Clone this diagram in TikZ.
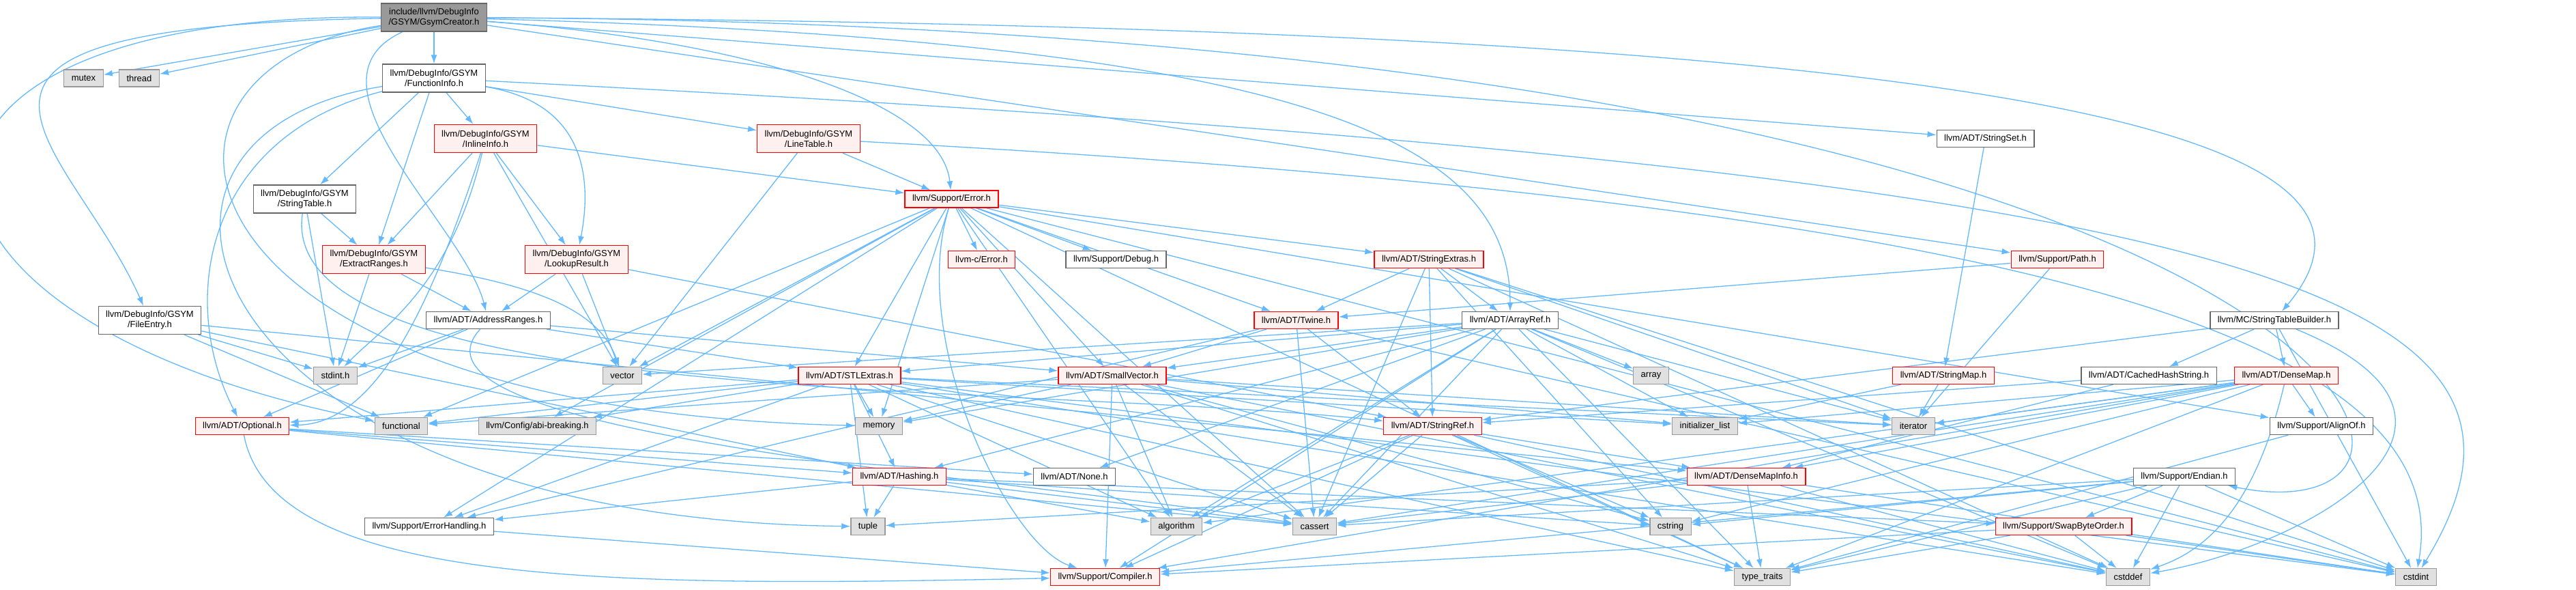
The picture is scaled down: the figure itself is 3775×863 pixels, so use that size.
\documentclass[tikz,border=0pt]{standalone}
\usepackage{xcolor}
\usepackage{fontspec}
\setmainfont{Liberation Sans}
\usepackage{tikz}
\usetikzlibrary{arrows.meta,positioning,backgrounds}

\definecolor{edgeblue}{HTML}{63B8FF}
\definecolor{hdrgray}{HTML}{666666}
\definecolor{rootgray}{HTML}{999999}
\definecolor{truncred}{HTML}{FF0000}
\definecolor{truncfill}{HTML}{FFF0F0}
\definecolor{sysgray}{HTML}{999999}
\definecolor{sysfill}{HTML}{E0E0E0}
\newcommand{\boxfont}{\fontsize{13pt}{15pt}\selectfont}

\begin{document}
\begin{tikzpicture}[x=1pt, y=1pt, >={Latex[length=13pt,width=9pt]},
    box/.style={shape=rectangle, draw, line width=1.3pt, align=center, font=\boxfont,
                inner xsep=11pt, inner ysep=0pt, minimum height=25pt},
    rootnode/.style={box, draw=hdrgray, fill=rootgray},
    hdr/.style={box, draw=hdrgray, fill=white},
    trunc/.style={box, draw=truncred, fill=truncfill},
    sysfile/.style={box, draw=sysgray, fill=sysfill},
    twoline/.style={minimum height=41pt},
    dep/.style={->, draw=edgeblue, line width=1.3pt}
    ]
\useasboundingbox (0,0) rectangle (3775,-863);
% headers, row by row
\node[rootnode, twoline] (gsymcreator) at (636,-25.5) {include/llvm/DebugInfo\\/GSYM/GsymCreator.h};
\node[sysfile] (mutex) at (122.5,-114.5) {mutex};
\node[sysfile] (thread) at (204,-114.5) {thread};
\node[hdr, twoline] (functioninfo) at (636,-114.5) {llvm/DebugInfo/GSYM\\/FunctionInfo.h};
\node[trunc, twoline] (inlineinfo) at (711.5,-203) {llvm/DebugInfo/GSYM\\/InlineInfo.h};
\node[trunc, twoline] (linetable) at (1185,-203) {llvm/DebugInfo/GSYM\\/LineTable.h};
\node[hdr] (stringset) at (2909.5,-203) {llvm/ADT/StringSet.h};
\node[hdr, twoline] (stringtable) at (446.5,-291.5) {llvm/DebugInfo/GSYM\\/StringTable.h};
\node[trunc] (supporterror) at (1394.5,-291.5) {llvm/Support/Error.h};
\node[trunc, twoline] (extractranges) at (548,-380) {llvm/DebugInfo/GSYM\\/ExtractRanges.h};
\node[trunc, twoline] (lookupresult) at (845,-380) {llvm/DebugInfo/GSYM\\/LookupResult.h};
\node[trunc] (cerror) at (1438.5,-380) {llvm-c/Error.h};
\node[hdr] (debug) at (1635.5,-380) {llvm/Support/Debug.h};
\node[trunc] (stringextras) at (2094,-380) {llvm/ADT/StringExtras.h};
\node[trunc] (supportpath) at (3015,-380) {llvm/Support/Path.h};
\node[hdr, twoline] (fileentry) at (219.5,-469) {llvm/DebugInfo/GSYM\\/FileEntry.h};
\node[hdr] (addressranges) at (715.5,-469) {llvm/ADT/AddressRanges.h};
\node[trunc] (twine) at (1899.5,-469) {llvm/ADT/Twine.h};
\node[hdr] (arrayref) at (2213,-469) {llvm/ADT/ArrayRef.h};
\node[hdr] (stringtablebuilder) at (3333,-469) {llvm/MC/StringTableBuilder.h};
\node[sysfile] (stdint) at (491.5,-550) {stdint.h};
\node[sysfile] (vector) at (912,-550) {vector};
\node[trunc] (stlextras) at (1245,-550) {llvm/ADT/STLExtras.h};
\node[trunc] (smallvector) at (1630,-550) {llvm/ADT/SmallVector.h};
\node[sysfile] (array) at (2419.5,-550) {array};
\node[trunc] (stringmap) at (2848,-550) {llvm/ADT/StringMap.h};
\node[hdr] (cachedhashstring) at (3149,-550) {llvm/ADT/CachedHashString.h};
\node[trunc] (densemap) at (3350.5,-550) {llvm/ADT/DenseMap.h};
\node[trunc] (optional) at (355,-624) {llvm/ADT/Optional.h};
\node[sysfile] (functional) at (588,-624) {functional};
\node[sysfile] (abibreaking) at (787.5,-624) {llvm/Config/abi-breaking.h};
\node[sysfile] (memory) at (1288,-624) {memory};
\node[trunc] (stringref) at (2099.5,-624) {llvm/ADT/StringRef.h};
\node[sysfile] (initlist) at (2498.5,-624) {initializer\_list};
\node[sysfile] (iterator) at (2804,-624) {iterator};
\node[hdr] (alignof) at (3402,-624) {llvm/Support/AlignOf.h};
\node[trunc] (hashing) at (1318,-698) {llvm/ADT/Hashing.h};
\node[hdr] (noneh) at (1574.5,-698) {llvm/ADT/None.h};
\node[trunc] (densemapinfo) at (2559,-698) {llvm/ADT/DenseMapInfo.h};
\node[hdr] (endian) at (3201,-698) {llvm/Support/Endian.h};
\node[hdr] (errorhandling) at (629,-771) {llvm/Support/ErrorHandling.h};
\node[sysfile] (tuple) at (1272,-771) {tuple};
\node[sysfile] (algorithm) at (1724,-771) {algorithm};
\node[sysfile] (cassert) at (1926.5,-771) {cassert};
\node[sysfile] (cstring) at (2448,-771) {cstring};
\node[trunc] (swapbyteorder) at (3024,-771) {llvm/Support/SwapByteOrder.h};
\node[trunc] (compiler) at (1619.5,-845) {llvm/Support/Compiler.h};
\node[sysfile] (typetraits) at (2582.5,-845) {type\_traits};
\node[sysfile] (cstddef) at (3118.5,-845) {cstddef};
\node[sysfile] (cstdint) at (3540.5,-845) {cstdint};

\begin{scope}[on background layer]
% GsymCreator.h
\draw[dep] (gsymcreator) -- (mutex);
\draw[dep] (gsymcreator) -- (thread);
\draw[dep] (gsymcreator) -- (functioninfo);
\draw[dep] (gsymcreator) .. controls (-200,-40) and (100,-200) .. (fileentry);
\draw[dep] (gsymcreator) .. controls (-250,-20) and (-200,-470) .. (functional);
\draw[dep] (gsymcreator) .. controls (150,-100) and (230,-600) .. (memory);
\draw[dep] (gsymcreator) .. controls (430,-120) and (680,-330) .. (addressranges);
\draw[dep] (gsymcreator) .. controls (1900,-60) and (2213,-200) .. (arrayref);
\draw[dep] (gsymcreator) -- (stringset);
\draw[dep] (gsymcreator) .. controls (3000,-40) and (3560,-200) .. (stringtablebuilder);
\draw[dep] (gsymcreator) .. controls (3500,-40) and (3700,-800) .. (endian);
\draw[dep] (gsymcreator) .. controls (1100,-60) and (1380,-150) .. (supporterror);
\draw[dep] (gsymcreator) -- (supportpath);
% FunctionInfo.h
\draw[dep] (functioninfo) .. controls (300,-200) and (260,-440) .. (optional);
\draw[dep] (functioninfo) .. controls (100,-200) and (300,-760) .. (tuple);
\draw[dep] (functioninfo) -- (stringtable);
\draw[dep] (functioninfo) -- (extractranges);
\draw[dep] (functioninfo) -- (inlineinfo);
\draw[dep] (functioninfo) -- (linetable);
\draw[dep] (functioninfo) .. controls (850,-150) and (870,-250) .. (lookupresult);
\draw[dep] (functioninfo) .. controls (3300,-250) and (3800,-420) .. (cstdint);
% InlineInfo.h
\draw[dep] (inlineinfo) -- (extractranges);
\draw[dep] (inlineinfo) -- (lookupresult);
\draw[dep] (inlineinfo) -- (supporterror);
\draw[dep] (inlineinfo) .. controls (640,-420) and (560,-620) .. (optional);
\draw[dep] (inlineinfo) .. controls (660,-420) and (560,-480) .. (stdint);
\draw[dep] (inlineinfo) -- (vector);
% LineTable.h
\draw[dep] (linetable) -- (supporterror);
\draw[dep] (linetable) -- (vector);
\draw[dep] (linetable) .. controls (3000,-300) and (3600,-500) .. (cstdint);
% StringTable.h
\draw[dep] (stringtable) -- (stdint);
\draw[dep] (stringtable) -- (extractranges);
\draw[dep] (stringtable) .. controls (400,-600) and (1500,-560) .. (stringref);
% ExtractRanges.h
\draw[dep] (extractranges) -- (addressranges);
\draw[dep] (extractranges) -- (stdint);
\draw[dep] (extractranges) .. controls (800,-420) and (880,-460) .. (vector);
% LookupResult.h
\draw[dep] (lookupresult) -- (addressranges);
\draw[dep] (lookupresult) -- (vector);
\draw[dep] (lookupresult) -- (stringref);
% FileEntry.h
\draw[dep] (fileentry) -- (densemapinfo);
\draw[dep] (fileentry) -- (hashing);
\draw[dep] (fileentry) -- (functional);
\draw[dep] (fileentry) -- (stdint);
% AddressRanges.h
\draw[dep] (addressranges) -- (optional);
\draw[dep] (addressranges) -- (stlextras);
\draw[dep] (addressranges) -- (smallvector);
\draw[dep] (addressranges) .. controls (560,-640) and (1500,-700) .. (cassert);
\draw[dep] (addressranges) -- (stdint);
% Error.h
\draw[dep] (supporterror) -- (cerror);
\draw[dep] (supporterror) -- (stlextras);
\draw[dep] (supporterror) -- (smallvector);
\draw[dep] (supporterror) -- (stringextras);
\draw[dep] (supporterror) -- (twine);
\draw[dep] (supporterror) -- (abibreaking);
\draw[dep] (supporterror) -- (alignof);
\draw[dep] (supporterror) .. controls (1330,-500) and (1480,-800) .. (compiler);
\draw[dep] (supporterror) -- (debug);
\draw[dep] (supporterror) -- (errorhandling);
\draw[dep] (supporterror) -- (algorithm);
\draw[dep] (supporterror) -- (cassert);
\draw[dep] (supporterror) -- (cstdint);
\draw[dep] (supporterror) -- (functional);
\draw[dep] (supporterror) -- (memory);
\draw[dep] (supporterror) -- (typetraits);
\draw[dep] (supporterror) -- (vector);
% StringExtras.h
\draw[dep] (stringextras) -- (arrayref);
\draw[dep] (stringextras) -- (stringref);
\draw[dep] (stringextras) -- (twine);
\draw[dep] (stringextras) -- (cassert);
\draw[dep] (stringextras) -- (cstddef);
\draw[dep] (stringextras) -- (cstdint);
\draw[dep] (stringextras) -- (cstring);
\draw[dep] (stringextras) -- (iterator);
% StringSet.h, Path.h
\draw[dep] (stringset) -- (stringmap);
\draw[dep] (supportpath) -- (twine);
\draw[dep] (supportpath) -- (iterator);
% StringTableBuilder.h
\draw[dep] (stringtablebuilder) -- (cachedhashstring);
\draw[dep] (stringtablebuilder) -- (densemap);
\draw[dep] (stringtablebuilder) -- (stringref);
\draw[dep] (stringtablebuilder) .. controls (3700,-620) and (3380,-800) .. (cstddef);
\draw[dep] (stringtablebuilder) -- (cstdint);
% CachedHashString.h
\draw[dep] (cachedhashstring) -- (densemapinfo);
\draw[dep] (cachedhashstring) -- (stringref);
% DenseMap.h
\draw[dep] (densemap) -- (densemapinfo);
\draw[dep] (densemap) -- (alignof);
\draw[dep] (densemap) -- (compiler);
\draw[dep] (densemap) -- (algorithm);
\draw[dep] (densemap) -- (cassert);
\draw[dep] (densemap) .. controls (3310,-720) and (3250,-800) .. (cstddef);
\draw[dep] (densemap) -- (cstring);
\draw[dep] (densemap) -- (initlist);
\draw[dep] (densemap) -- (iterator);
\draw[dep] (densemap) -- (typetraits);
% AlignOf.h
\draw[dep] (alignof) -- (typetraits);
% Endian.h
\draw[dep] (endian) -- (compiler);
\draw[dep] (endian) -- (swapbyteorder);
\draw[dep] (endian) -- (cassert);
\draw[dep] (endian) -- (cstddef);
\draw[dep] (endian) -- (cstdint);
\draw[dep] (endian) -- (cstring);
\draw[dep] (endian) -- (typetraits);
% SwapByteOrder.h
\draw[dep] (swapbyteorder) -- (compiler);
\draw[dep] (swapbyteorder) -- (cstddef);
\draw[dep] (swapbyteorder) -- (cstdint);
\draw[dep] (swapbyteorder) -- (typetraits);
% Twine.h
\draw[dep] (twine) -- (smallvector);
\draw[dep] (twine) -- (stringref);
\draw[dep] (twine) -- (errorhandling);
\draw[dep] (twine) -- (cassert);
\draw[dep] (twine) -- (cstdint);
% ArrayRef.h
\draw[dep] (arrayref) -- (hashing);
\draw[dep] (arrayref) -- (noneh);
\draw[dep] (arrayref) -- (stlextras);
\draw[dep] (arrayref) -- (smallvector);
\draw[dep] (arrayref) -- (compiler);
\draw[dep] (arrayref) -- (algorithm);
\draw[dep] (arrayref) -- (array);
\draw[dep] (arrayref) -- (cassert);
\draw[dep] (arrayref) -- (cstddef);
\draw[dep] (arrayref) -- (initlist);
\draw[dep] (arrayref) -- (iterator);
\draw[dep] (arrayref) -- (memory);
\draw[dep] (arrayref) -- (typetraits);
\draw[dep] (arrayref) -- (vector);
% SmallVector.h
\draw[dep] (smallvector) -- (compiler);
\draw[dep] (smallvector) -- (algorithm);
\draw[dep] (smallvector) -- (cassert);
\draw[dep] (smallvector) -- (cstddef);
\draw[dep] (smallvector) -- (cstring);
\draw[dep] (smallvector) -- (functional);
\draw[dep] (smallvector) -- (initlist);
\draw[dep] (smallvector) -- (iterator);
\draw[dep] (smallvector) -- (memory);
\draw[dep] (smallvector) -- (typetraits);
% STLExtras.h
\draw[dep] (stlextras) -- (hashing);
\draw[dep] (stlextras) -- (optional);
\draw[dep] (stlextras) -- (abibreaking);
\draw[dep] (stlextras) -- (errorhandling);
\draw[dep] (stlextras) -- (algorithm);
\draw[dep] (stlextras) -- (cassert);
\draw[dep] (stlextras) -- (cstddef);
\draw[dep] (stlextras) -- (cstdint);
\draw[dep] (stlextras) -- (functional);
\draw[dep] (stlextras) -- (initlist);
\draw[dep] (stlextras) -- (iterator);
\draw[dep] (stlextras) -- (memory);
\draw[dep] (stlextras) -- (tuple);
\draw[dep] (stlextras) -- (typetraits);
% StringRef.h
\draw[dep] (stringref) -- (densemapinfo);
\draw[dep] (stringref) -- (compiler);
\draw[dep] (stringref) -- (algorithm);
\draw[dep] (stringref) -- (cassert);
\draw[dep] (stringref) -- (cstddef);
\draw[dep] (stringref) -- (cstring);
\draw[dep] (stringref) -- (typetraits);
% StringMap.h
\draw[dep] (stringmap) -- (initlist);
\draw[dep] (stringmap) -- (iterator);
% Optional.h
\draw[dep] (optional) -- (hashing);
\draw[dep] (optional) -- (noneh);
\draw[dep] (optional) .. controls (400,-860) and (900,-860) .. (compiler);
\draw[dep] (optional) -- (cassert);
% Hashing.h
\draw[dep] (hashing) -- (errorhandling);
\draw[dep] (hashing) -- (swapbyteorder);
\draw[dep] (hashing) -- (algorithm);
\draw[dep] (hashing) -- (cassert);
\draw[dep] (hashing) -- (cstring);
\draw[dep] (hashing) -- (tuple);
% DenseMapInfo.h
\draw[dep] (densemapinfo) -- (cassert);
\draw[dep] (densemapinfo) -- (cstddef);
\draw[dep] (densemapinfo) -- (cstdint);
\draw[dep] (densemapinfo) -- (tuple);
\draw[dep] (densemapinfo) -- (typetraits);
% ErrorHandling.h
\draw[dep] (errorhandling) -- (compiler);
\end{scope}
\end{tikzpicture}
\end{document}
